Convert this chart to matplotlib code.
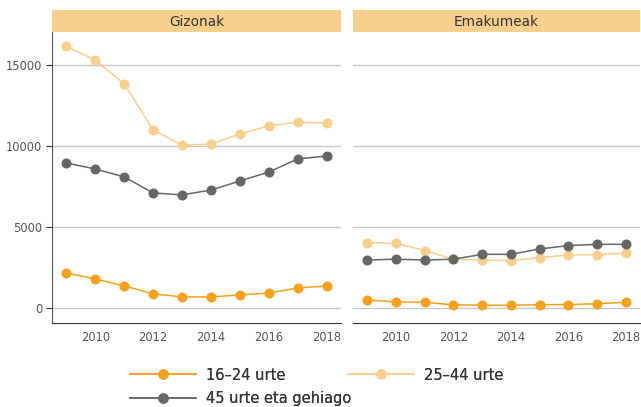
import matplotlib.pyplot as plt
from matplotlib.lines import Line2D

years = list(range(2009, 2019))
panels = ["Gizonak", "Emakumeak"]
series_names = ["16–24 urte", "25–44 urte", "45 urte eta gehiago"]

gizonak_16_24 = [2160, 1790, 1360, 870, 680, 680, 800, 920, 1230, 1360]
gizonak_25_44 = [16150, 15300, 13830, 10990, 10060, 10120, 10740, 11240, 11480, 11420]
gizonak_45 = [8950, 8580, 8090, 7100, 6980, 7280, 7840, 8390, 9200, 9380]

emakumeak_16_24 = [490, 370, 350, 190, 170, 170, 200, 210, 260, 350]
emakumeak_25_44 = [4030, 3990, 3540, 3010, 2960, 2920, 3110, 3270, 3290, 3380]
emakumeak_45 = [2960, 3010, 2960, 3010, 3310, 3310, 3640, 3850, 3930, 3930]

data = {
    "Gizonak": [gizonak_16_24, gizonak_25_44, gizonak_45],
    "Emakumeak": [emakumeak_16_24, emakumeak_25_44, emakumeak_45],
}
colors = ["#F5A11C", "#F9CF8D", "#666666"]
strip_color = "#F9CF8D"

plt.rcParams['font.family'] = ['DejaVu Sans']

W, H = 641, 407
fig = plt.figure(figsize=(W / 100, H / 100), dpi=100)

# panel boxes in pixels: (left, right)
boxes = [(52, 341), (353, 640)]
top, bottom = 32, 323

for i, (name, (x0, x1)) in enumerate(zip(panels, boxes)):
    ax = fig.add_axes([x0 / W, 1 - bottom / H, (x1 - x0) / W, (bottom - top) / H])
    for vals, c in zip(data[name], colors):
        ax.plot(years, vals, color=c, lw=1.1, marker="o", markersize=6.2, zorder=3)
    ax.set_xlim(2008.5, 2018.5)
    ax.set_ylim(-930, 17040)
    ax.set_xticks([2010, 2012, 2014, 2016, 2018])
    ax.set_yticks([0, 5000, 10000, 15000])
    ax.grid(axis="y", color="#C8C8C8", lw=1)
    ax.set_axisbelow(True)
    for s in ["top", "right"]:
        ax.spines[s].set_visible(False)
    ax.spines["bottom"].set_color("#333333")
    ax.tick_params(axis="x", length=0, labelsize=8.3, colors="#555555", pad=6)
    if i == 0:
        ax.spines["left"].set_color("#555555")
        ax.tick_params(axis="y", length=4, color="#333333", labelsize=8.3,
                       labelcolor="#555555", pad=3)
    else:
        ax.spines["left"].set_visible(False)
        ax.tick_params(axis="y", length=0, labelleft=False)

    sax = fig.add_axes([x0 / W, 1 - top / H, (x1 - x0) / W, 22 / H])
    sax.set_facecolor(strip_color)
    sax.set_xticks([])
    sax.set_yticks([])
    for s in sax.spines.values():
        s.set_visible(False)
    sax.text(0.5, 0.45, name, ha="center", va="center", fontsize=9.8,
             color="#333333", transform=sax.transAxes)

# legend entries placed like the reference: two on the first row, one on the second
legend_pos = [(130, 375), (348, 375), (130, 399)]
for name, c, (lx, ly) in zip(series_names, colors, legend_pos):
    h = Line2D([], [], color=c, lw=1.1, marker="o", markersize=6.5)
    leg = fig.legend([h], [name], loc="center left",
                     bbox_to_anchor=(lx / W, 1 - ly / H), frameon=False,
                     fontsize=10.5, handlelength=4.5, handletextpad=0.7,
                     borderpad=0, borderaxespad=0, labelcolor="#333333")
    fig.add_artist(leg)

fig.savefig("out.png", dpi=100)
